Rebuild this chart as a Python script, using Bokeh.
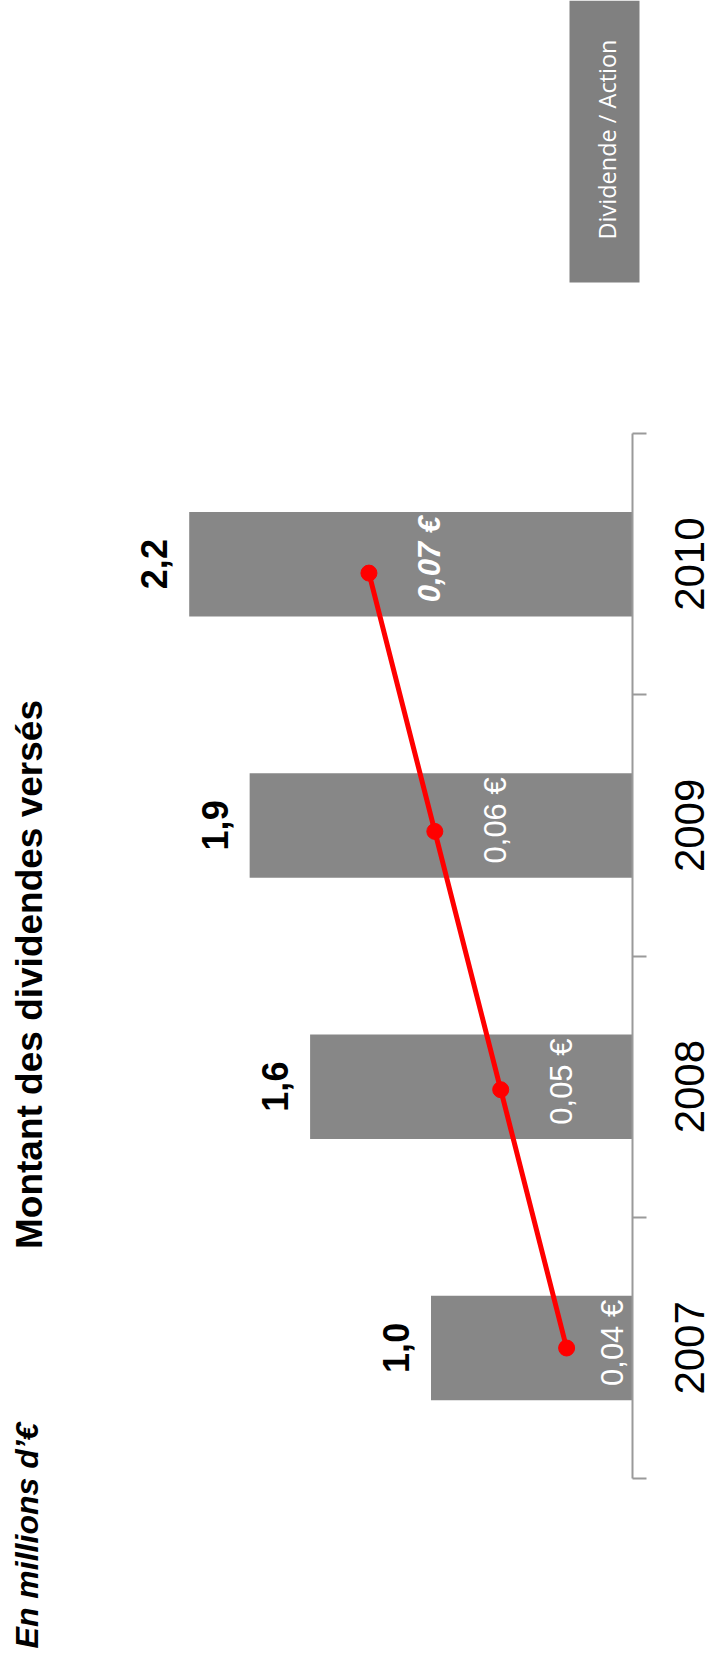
import math

from bokeh.embed import file_html
from bokeh.models import BoxAnnotation, FixedTicker, Label, LinearAxis, Range1d
from bokeh.plotting import figure
from bokeh.resources import INLINE
from bokeh.core.properties import value

# --- data -----------------------------------------------------------------
years = ["2007", "2008", "2009", "2010"]
dividends_total = [1.0, 1.6, 1.9, 2.2]        # en millions d'euros
dividend_per_share = [0.04, 0.05, 0.06, 0.07]  # euros par action

title_text = "Montant des dividendes versés"
unit_text = "En millions d’€"
legend_text = "Dividende / Action"

# --- layout (pixels) ------------------------------------------------------
W, H = 714, 1663
AXIS_X = 632             # screen x of the category axis (value 0)
CAT_TOP, CAT_BOTTOM = 433, 1478
BAR_PX = 201.5           # pixels per million euros
DPS_PX = 6589.0          # pixels per euro on the per-share scale
DPS_BASE = 0.03          # per-share value at the category axis

cat_px = (CAT_BOTTOM - CAT_TOP) / len(years)
y_top = len(years) + CAT_TOP / cat_px
y_bottom = y_top - H / cat_px

# secondary category placement used by the per-share series
LINE_FIRST_PX, LINE_STEP_PX = 1347.5, 258.3
ly_top = 0.5 + LINE_FIRST_PX / LINE_STEP_PX
ly_bottom = 0.5 - (H - LINE_FIRST_PX) / LINE_STEP_PX

GREY_BAR = "#878787"
GREY_AXIS = "#9a9a9a"
RED = "#ff0000"
UP = math.pi / 2         # all texts read from bottom to top

# value axes run leftwards from the category axis
p = figure(
    width=W, height=H,
    x_range=Range1d(AXIS_X / BAR_PX, -(W - AXIS_X) / BAR_PX),
    y_range=Range1d(y_bottom, y_top),
    x_axis_location=None, y_axis_location=None,
    toolbar_location=None, output_backend="svg",
    min_border=0, outline_line_color=None,
    background_fill_color="white", border_fill_color="white",
)
p.grid.visible = False
p.extra_x_ranges = {"dps": Range1d(DPS_BASE + AXIS_X / DPS_PX,
                                   DPS_BASE - (W - AXIS_X) / DPS_PX)}
p.extra_y_ranges = {"dps_y": Range1d(ly_bottom, ly_top)}

pos = [i + 0.5 for i in range(len(years))]

# category axis at value 0, ticks on the category boundaries
cat_axis = LinearAxis(
    fixed_location=0,
    ticker=FixedTicker(ticks=[], minor_ticks=list(range(len(years) + 1))),
    bounds=(0, len(years)),
    major_label_standoff=0,
    major_tick_line_color=None, major_tick_in=0, major_tick_out=0,
    minor_tick_line_color=GREY_AXIS, minor_tick_line_width=2,
    minor_tick_in=14, minor_tick_out=0,
    axis_line_color=GREY_AXIS, axis_line_width=2,
)
p.add_layout(cat_axis, "left")

# year labels beside the axis
p.text(x=[0] * len(years), y=pos, text=years, angle=UP, x_offset=57,
       text_align="center", text_baseline="middle",
       text_font=value("Liberation Sans"), text_font_size="42px",
       text_color="black")

# bars: total dividends
p.hbar(y=pos, left=0, right=dividends_total, height=0.4,
       fill_color=GREY_BAR, line_color=None)

bar_labels = [f"{v:.1f}".replace(".", ",") for v in dividends_total]
p.text(x=dividends_total, y=pos, text=bar_labels, angle=UP,
       x_offset=-35, text_align="center", text_baseline="middle",
       text_font=value("Liberation Sans"), text_font_style="bold",
       text_font_size="36px", text_color="black")

# line: dividend per share
p.line(x=dividend_per_share, y=pos, x_range_name="dps", y_range_name="dps_y",
       line_color=RED, line_width=5)
p.scatter(x=dividend_per_share, y=pos, x_range_name="dps", y_range_name="dps_y",
          size=16, fill_color=RED, line_color=RED)

# per-share labels sit to the right of each point, kept inside the bar
label_shift = 61 / DPS_PX
inner_limit = DPS_BASE + 20.5 / DPS_PX
dps_label_x = [max(v - label_shift, inner_limit) for v in dividend_per_share]
dps_labels = [f"{v:.2f} €".replace(".", ",") for v in dividend_per_share]
last = len(years) - 1
for i in range(len(years)):
    p.text(x=[dps_label_x[i]], y=[pos[i]], text=[dps_labels[i]],
           x_range_name="dps", angle=UP, y_offset=-5,
           text_align="center", text_baseline="middle",
           text_font=value("Liberation Sans"),
           text_font_style="bold italic" if i == last else "normal",
           text_font_size="31px", text_color="white")

# legend swatch for the per-share series
p.add_layout(BoxAnnotation(left=569, right=639, top=H, bottom=H - 282,
                           left_units="screen", right_units="screen",
                           top_units="screen", bottom_units="screen",
                           fill_color="#808080", fill_alpha=1.0,
                           line_color=None, level="annotation"))
p.add_layout(Label(x=606, y=H - 139, x_units="screen", y_units="screen",
                   text=legend_text, angle=UP,
                   text_align="center", text_baseline="middle",
                   text_font="Open Sans", text_font_size="23.5px",
                   text_color="white"))

# titles
p.add_layout(Label(x=29, y=H - 974, x_units="screen", y_units="screen",
                   text=title_text, angle=UP,
                   text_align="center", text_baseline="middle",
                   text_font="Liberation Sans", text_font_style="bold",
                   text_font_size="37px", text_color="black"))
p.add_layout(Label(x=26.5, y=H - 1535, x_units="screen", y_units="screen",
                   text=unit_text, angle=UP,
                   text_align="center", text_baseline="middle",
                   text_font="Liberation Sans", text_font_style="bold italic",
                   text_font_size="32px", text_color="black"))

open("out.html", "w").write(file_html(p, INLINE))
